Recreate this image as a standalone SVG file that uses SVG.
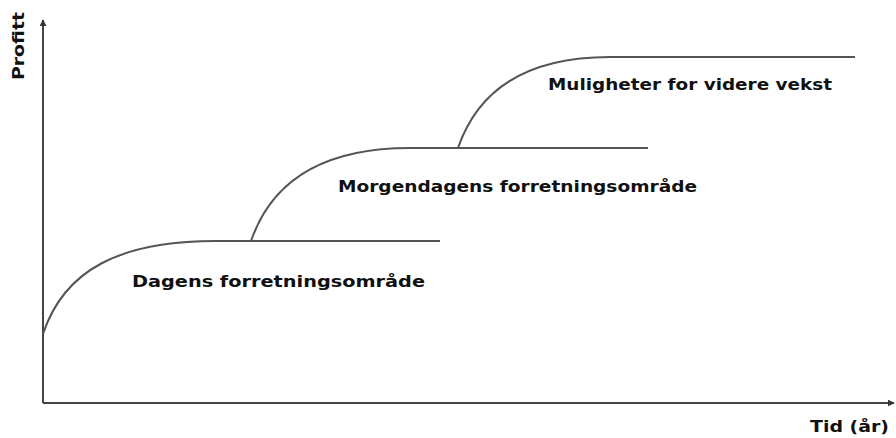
<svg xmlns="http://www.w3.org/2000/svg" width="896" height="438" viewBox="0 0 896 438">
<style>
.ax{stroke:#444;stroke-width:2;fill:none}
.cv{stroke:#555;stroke-width:2;fill:none}
.t{font-family:"DejaVu Sans",Verdana,sans-serif;font-weight:bold;font-size:16px;fill:#111}
</style>
<defs>
<marker id="ah" viewBox="0 0 10 10" refX="9" refY="5" markerWidth="7" markerHeight="7" orient="auto" markerUnits="userSpaceOnUse">
<path d="M0,0 L10,5 L0,10 z" fill="#333"/>
</marker>
</defs>
<rect width="896" height="438" fill="#fff"/>
<g id="axes">
<path class="ax" d="M43,403 L43,20" marker-end="url(#ah)"/>
<path class="ax" d="M43,403 L894,403" marker-end="url(#ah)"/>
</g>
<g id="connectors">
<path class="cv" d="M43,334 C64,270 120,241 215,241 L440,241"/>
<path class="cv" d="M251,241 C272,180 325,148 410,148 L648,148"/>
<path class="cv" d="M458,148 C478,90 525,57 610,57 L855,57"/>
</g>
<g id="label-profitt"><text class="t" transform="translate(24,80) rotate(-90)" textLength="68" lengthAdjust="spacingAndGlyphs">Profitt</text></g>
<g id="label-tid"><text class="t" x="810" y="432" textLength="79" lengthAdjust="spacingAndGlyphs">Tid (år)</text></g>
<g id="node-dagens"><text class="t" x="132" y="287" textLength="293" lengthAdjust="spacingAndGlyphs">Dagens forretningsområde</text></g>
<g id="node-morgendagens"><text class="t" x="338" y="192" textLength="359" lengthAdjust="spacingAndGlyphs">Morgendagens forretningsområde</text></g>
<g id="node-muligheter"><text class="t" x="548" y="90" textLength="284" lengthAdjust="spacingAndGlyphs">Muligheter for videre vekst</text></g>
</svg>
